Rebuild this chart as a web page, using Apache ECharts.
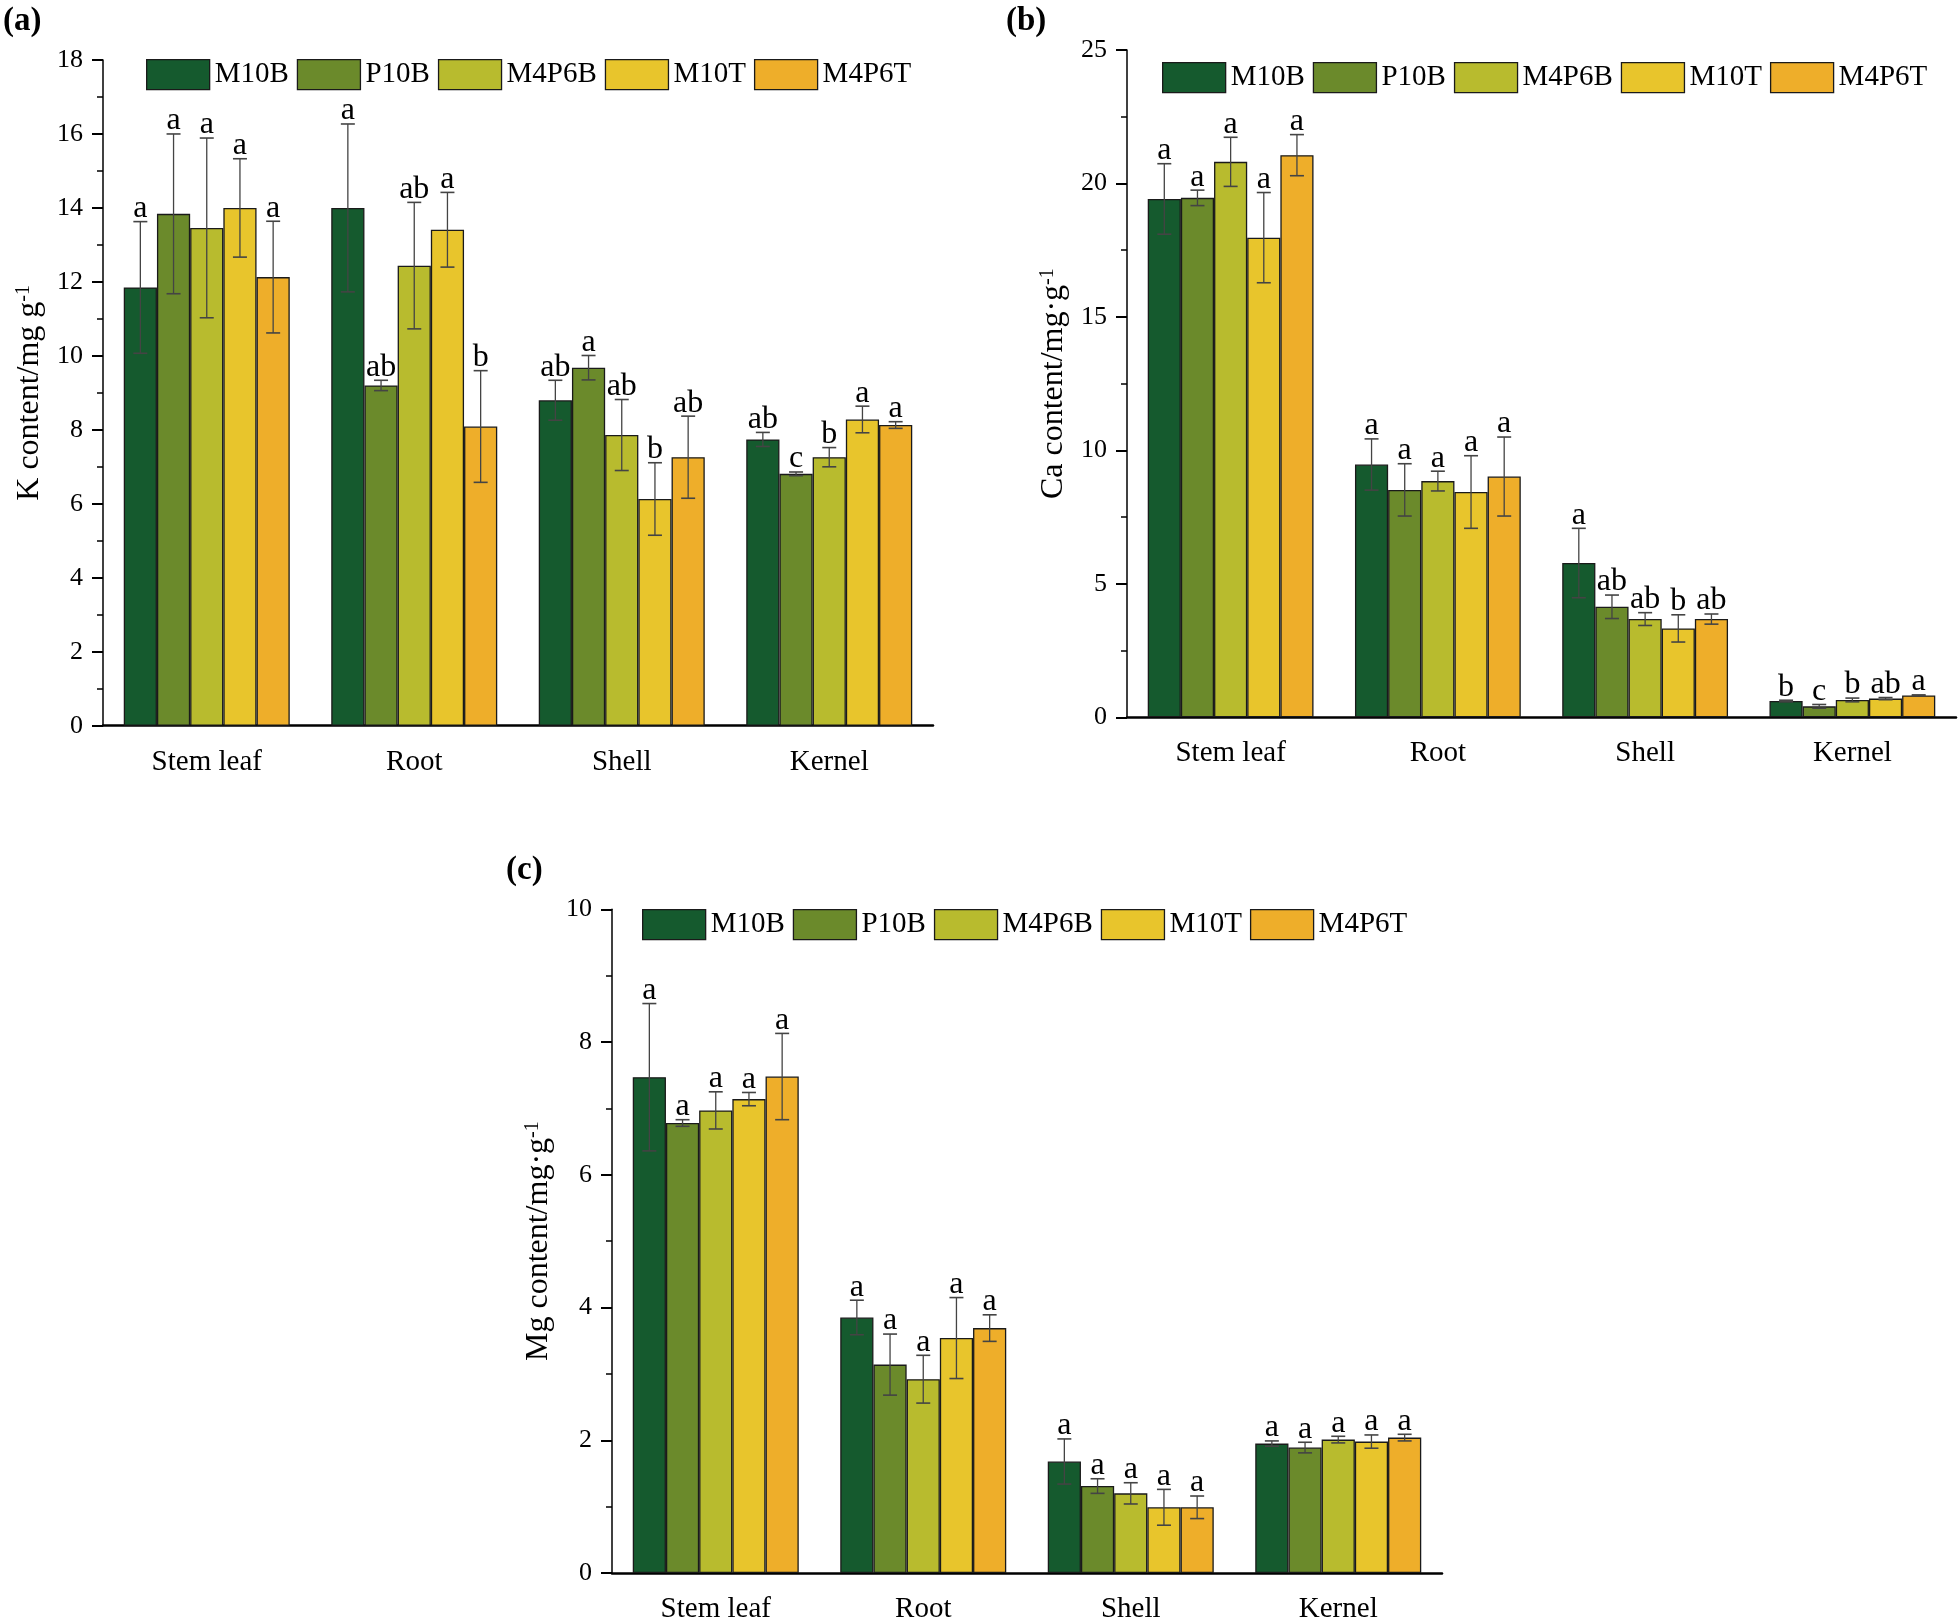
<!DOCTYPE html>
<html><head><meta charset="utf-8">
<script src="https://cdn.jsdelivr.net/npm/echarts@6/dist/echarts.min.js"></script>
<style>html,body{margin:0;padding:0;background:#fff}#c{width:1960px;height:1624px}</style>
</head><body><div id="c"></div>
<script>
const categories = ['Stem leaf', 'Root', 'Shell', 'Kernel'];
const seriesNames = ['M10B', 'P10B', 'M4P6B', 'M10T', 'M4P6T'];

// K content (panel a), one row per treatment, columns = categories
const K_mean = [
  [11.85, 14.00, 8.80, 7.74],
  [13.84, 9.20, 9.68, 6.81],
  [13.46, 12.44, 7.86, 7.26],
  [14.00, 13.41, 6.13, 8.28],
  [12.13, 8.09, 7.26, 8.13]
];
const K_err = [
  [1.78, 2.27, 0.54, 0.19],
  [2.16, 0.14, 0.33, 0.05],
  [2.43, 1.71, 0.96, 0.26],
  [1.33, 1.01, 0.98, 0.36],
  [1.51, 1.51, 1.11, 0.09]
];
const K_letters = [
  ['a', 'a', 'ab', 'ab'],
  ['a', 'ab', 'a', 'c'],
  ['a', 'ab', 'ab', 'b'],
  ['a', 'a', 'b', 'a'],
  ['a', 'b', 'ab', 'a']
];

// Ca content (panel b)
const Ca_mean = [
  [19.42, 9.47, 5.78, 0.61],
  [19.46, 8.52, 4.14, 0.41],
  [20.81, 8.85, 3.68, 0.65],
  [17.97, 8.44, 3.33, 0.70],
  [21.06, 9.02, 3.68, 0.82]
];
const Ca_err = [
  [1.32, 0.96, 1.30, 0.03],
  [0.29, 0.98, 0.44, 0.07],
  [0.92, 0.37, 0.24, 0.07],
  [1.69, 1.36, 0.51, 0.04],
  [0.77, 1.48, 0.19, 0.02]
];
const Ca_letters = [
  ['a', 'a', 'a', 'b'],
  ['a', 'a', 'ab', 'c'],
  ['a', 'a', 'ab', 'b'],
  ['a', 'a', 'b', 'ab'],
  ['a', 'a', 'ab', 'a']
];

// Mg content (panel c)
const Mg_mean = [
  [7.47, 3.85, 1.68, 1.95],
  [6.78, 3.14, 1.31, 1.89],
  [6.97, 2.92, 1.20, 2.01],
  [7.14, 3.54, 0.99, 1.98],
  [7.48, 3.69, 0.99, 2.04]
];
const Mg_err = [
  [1.11, 0.26, 0.34, 0.04],
  [0.05, 0.46, 0.11, 0.08],
  [0.28, 0.36, 0.16, 0.05],
  [0.10, 0.61, 0.27, 0.10],
  [0.65, 0.20, 0.17, 0.05]
];
const Mg_letters = [
  ['a', 'a', 'a', 'a'],
  ['a', 'a', 'a', 'a'],
  ['a', 'a', 'a', 'a'],
  ['a', 'a', 'a', 'a'],
  ['a', 'a', 'a', 'a']
];

const yMax = [18, 25, 10];
const yInterval = [2, 5, 2];
const yNames = ['{n|K content/mg g}{s|-1}', '{n|Ca content/mg·g}{s|-1}', '{n|Mg content/mg·g}{s|-1}'];
const panelTags = ['(a)', '(b)', '(c)'];

const FONT = '"Liberation Serif","Times New Roman",serif';
const colors = ['#155a2e', '#6b8a2b', '#b8bb2e', '#e8c52c', '#eeae2a'];

const panels = [
  {mean: K_mean, err: K_err, letters: K_letters,
   grid: {left: 103, top: 60, width: 830, height: 665.7},
   legend: {left: 146, top: 59}, tag: {left: 3, top: 5}},
  {mean: Ca_mean, err: Ca_err, letters: Ca_letters,
   grid: {left: 1127, top: 50, width: 829, height: 667.3},
   legend: {left: 1162, top: 62}, tag: {left: 1006, top: 5}},
  {mean: Mg_mean, err: Mg_err, letters: Mg_letters,
   grid: {left: 612, top: 909.3, width: 830, height: 666.7},
   legend: {left: 642, top: 909}, tag: {left: 506, top: 854}}
];

const grids = [], xAxes = [], yAxes = [], legends = [], series = [], graphics = [];

panels.forEach((p, pi) => {
  grids.push(Object.assign({containLabel: false}, p.grid));
  xAxes.push({
    gridIndex: pi, type: 'category', data: categories,
    axisLine: {lineStyle: {color: '#000', width: 2.5}},
    axisTick: {alignWithLabel: true, length: 12, lineStyle: {color: '#000', width: 2}},
    axisLabel: {fontFamily: FONT, fontSize: 29, color: '#000', margin: 22}
  });
  yAxes.push({
    gridIndex: pi, type: 'value', min: 0, max: yMax[pi], interval: yInterval[pi],
    axisLine: {show: true, lineStyle: {color: '#000', width: 1.5}},
    axisTick: {show: true, length: 11, lineStyle: {color: '#000', width: 2}},
    minorTick: {show: true, splitNumber: 2, length: 6, lineStyle: {color: '#000', width: 1.5}},
    splitLine: {show: false},
    axisLabel: {fontFamily: FONT, fontSize: 26, color: '#000', margin: 20},
    name: yNames[pi], nameLocation: 'middle', nameGap: 57,
    nameTextStyle: {
      color: '#000', fontFamily: FONT, fontSize: 32,
      rich: {
        n: {fontFamily: FONT, fontSize: 32, color: '#000'},
        s: {fontFamily: FONT, fontSize: 20, color: '#000', verticalAlign: 'top'}
      }
    }
  });
  legends.push({
    left: p.legend.left, top: p.legend.top, orient: 'horizontal', padding: 0,
    icon: 'rect',
    itemWidth: 63, itemHeight: 30, itemGap: 8, selectedMode: false,
    data: seriesNames,
    itemStyle: {borderColor: '#1a1a1a', borderWidth: 1.3},
    textStyle: {fontFamily: FONT, fontSize: 29, color: '#000'}
  });
  seriesNames.forEach((nm, si) => {
    series.push({
      type: 'bar', name: nm, xAxisIndex: pi, yAxisIndex: pi,
      data: p.mean[si], barGap: '0%', barCategoryGap: '20%',
      itemStyle: {color: colors[si], borderColor: '#1a1a1a', borderWidth: 1.3},
      emphasis: {disabled: true}
    });
  });
  const errData = [];
  seriesNames.forEach((nm, si) => {
    categories.forEach((c, ci) => {
      errData.push([ci, si, p.mean[si][ci], p.err[si][ci]]);
    });
  });
  series.push({
    type: 'custom', name: 'err' + pi, xAxisIndex: pi, yAxisIndex: pi, z: 10,
    data: errData,
    renderItem: function (params, api) {
      const ci = api.value(0), si = api.value(1), m = api.value(2), e = api.value(3);
      const band = api.size([1, 0])[0];
      const base = api.coord([ci, m]);
      const bw = band * 0.8 / 5;
      const x = base[0] - band * 0.4 + bw * (si + 0.5);
      const top = api.coord([ci, m + e])[1];
      const bot = api.coord([ci, m - e])[1];
      const cap = 7;
      const st = {stroke: '#444', lineWidth: 1.3};
      return {
        type: 'group', children: [
          {type: 'line', shape: {x1: x, y1: top, x2: x, y2: bot}, style: st},
          {type: 'line', shape: {x1: x - cap, y1: top, x2: x + cap, y2: top}, style: {stroke: '#444', lineWidth: 1.6}},
          {type: 'line', shape: {x1: x - cap, y1: bot, x2: x + cap, y2: bot}, style: {stroke: '#444', lineWidth: 1.6}},
          {type: 'text', style: {text: p.letters[si][ci], x: x, y: top + 3, align: 'center', verticalAlign: 'bottom',
            font: '32px "Liberation Serif", serif', fill: '#000'}}
        ]
      };
    }
  });
  graphics.push({type: 'text', left: p.tag.left, top: p.tag.top,
    style: {text: panelTags[pi], font: 'bold 33px "Liberation Serif", serif', fill: '#000'}});
});

const chart = echarts.init(document.getElementById('c'), null, {renderer: 'canvas'});
chart.setOption({
  backgroundColor: '#fff',
  animation: false,
  grid: grids, xAxis: xAxes, yAxis: yAxes, legend: legends,
  series: series, graphic: graphics
});
</script></body></html>
